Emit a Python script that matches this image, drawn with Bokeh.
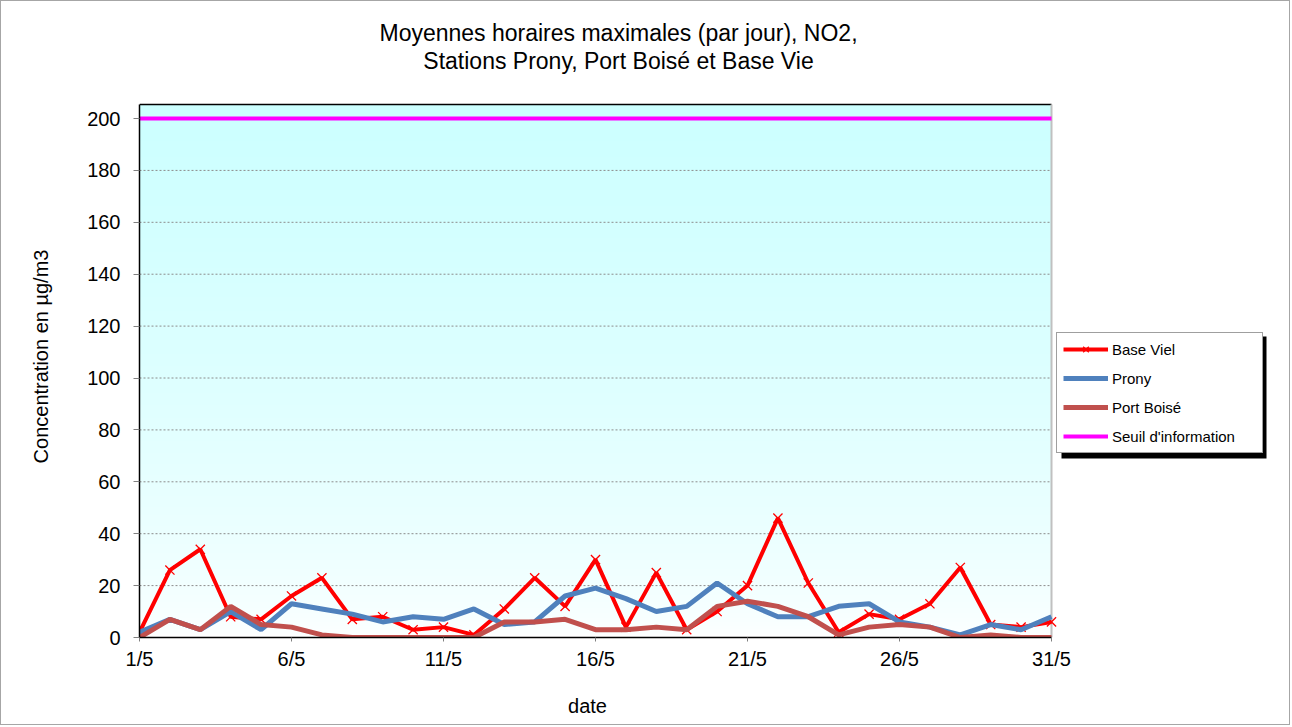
import math
import numpy as np
from bokeh.plotting import figure
from bokeh.models import (ColumnDataSource, FixedTicker, Legend, LegendItem, Range1d, Label,
                          BoxAnnotation)
from bokeh.embed import file_html
from bokeh.resources import INLINE

# ---------------- data ----------------
days = list(range(1, 32))
tick_days = [1, 6, 11, 16, 21, 26, 31]
tick_labels = ["1/5", "6/5", "11/5", "16/5", "21/5", "26/5", "31/5"]
y_ticks = [0, 20, 40, 60, 80, 100, 120, 140, 160, 180, 200]

base_viel = [2, 26, 34, 8, 7, 16, 23, 7, 8, 3, 4, 1, 11, 23, 12, 30,
             4, 25, 3, 10, 20, 46, 21, 2, 9, 7, 13, 27, 5, 4, 6]
prony = [2, 7, 3, 10, 3, 13, 11, 9, 6, 8, 7, 11, 5, 6, 16, 19,
         15, 10, 12, 21, 13, 8, 8, 12, 13, 6, 4, 1, 5, 3, 8]
port_boise = [0, 7, 3, 12, 5, 4, 1, 0, 0, 0, 0, 0, 6, 6, 7, 3,
              3, 4, 3, 12, 14, 12, 8, 1, 4, 5, 4, 0, 1, 0, 0]
seuil = [200] * 31

series_names = ["Base Viel", "Prony", "Port Boisé", "Seuil d'information"]
series_colors = ["#FF0000", "#4F81BD", "#C0504D", "#FF00FF"]
title_lines = ["Moyennes horaires maximales (par jour), NO2,",
               "Stations Prony, Port Boisé et Base Vie"]
x_label = "date"
y_label = "Concentration en µg/m3"

FONT = "Liberation Sans"

# ---------------- geometry (picture pixels) ----------------
W, H = 1288, 723
LEFT = 138                          # frame left in figure px (picture x = 139)
PLOT_W, PLOT_H = 912, 533           # visible plot area (days 1..31, 0..Y_MAX)
FRAME_H = 636                       # frame from figure top down to y = 0
BOTTOM = H - FRAME_H
FRAME_W = W - LEFT - 4
Y_MAX = 205.4
X0, X1 = days[0], days[-1]
px_per_day = PLOT_W / (X1 - X0)
px_per_unit = PLOT_H / Y_MAX
X_END = X0 + FRAME_W / px_per_day
Y_END = FRAME_H / px_per_unit


def dx(px):  # picture x -> data x
    return X0 + (px - 139) / px_per_day


def dy(py):  # picture y -> data y
    return (637 - py) / px_per_unit


src = ColumnDataSource(dict(day=days, bv=base_viel, pr=prony, pb=port_boise, se=seuil))

p = figure(width=W, height=H, output_backend="svg", toolbar_location=None,
           x_range=Range1d(X0, X_END), y_range=Range1d(0, Y_END),
           frame_width=FRAME_W, frame_height=FRAME_H,
           min_border_left=LEFT, min_border_right=4, min_border_top=0, min_border_bottom=BOTTOM)
p.styles = {"border": "1px solid #a6a6a6"}
p.background_fill_color = "white"
p.border_fill_color = "white"
p.outline_line_color = None
p.xgrid.visible = False
p.ygrid.visible = False

# gradient background of plot area
n = 300
t = np.linspace(0, 1, n)  # 0 = bottom, 1 = top
frac = t ** 0.6
img = np.zeros((n, 1), dtype=np.uint32)
view = img.view(dtype=np.uint8).reshape((n, 1, 4))
view[:, 0, 0] = (255 - (255 - 204) * frac).astype(np.uint8)
view[:, 0, 1] = 255
view[:, 0, 2] = 255
view[:, 0, 3] = 255
p.image_rgba(image=[img], x=X0, y=0, dw=X1 - X0, dh=Y_MAX, level="image")

# horizontal grid lines (dashed)
p.segment(x0=[X0] * len(y_ticks), x1=[X1] * len(y_ticks), y0=y_ticks, y1=y_ticks,
          line_color="#8c8c8c", line_dash="2 2", line_width=1)

# plot-area border: black top, gray right
p.segment(x0=[X0], x1=[X1], y0=[Y_MAX], y1=[Y_MAX], line_color="black", line_width=1.5)
p.segment(x0=[X1], x1=[X1], y0=[0], y1=[Y_MAX], line_color="#c0c0c0", line_width=2)

# series (Excel order)
r_bv = p.line("day", "bv", source=src, color=series_colors[0], line_width=4)
r_bvm = p.scatter("day", "bv", source=src, marker="x", size=13,
                  line_color=series_colors[0], line_width=1.3)
r_pr = p.line("day", "pr", source=src, color=series_colors[1], line_width=5)
r_pb = p.line("day", "pb", source=src, color=series_colors[2], line_width=5)
r_se = p.line("day", "se", source=src, color=series_colors[3], line_width=4)

# axes
p.xaxis.bounds = (X0, X1)
p.xaxis.ticker = FixedTicker(ticks=tick_days)
p.xaxis.major_label_overrides = {d: l for d, l in zip(tick_days, tick_labels)}
p.xaxis.minor_tick_line_color = None
p.xaxis.major_tick_out = 4
p.xaxis.major_tick_in = 0
p.xaxis.major_tick_line_color = "#808080"
p.xaxis.major_label_standoff = 6

p.yaxis.bounds = (0, Y_MAX)
p.yaxis.ticker = FixedTicker(ticks=y_ticks)
p.yaxis.minor_tick_line_color = None
p.yaxis.major_tick_out = 6
p.yaxis.major_tick_in = 0
p.yaxis.major_tick_line_color = "#808080"
p.yaxis.major_label_standoff = 13

for ax in (p.xaxis, p.yaxis):
    ax.axis_line_color = "black"
    ax.axis_line_width = 1.5
    ax.major_label_text_font = FONT
    ax.major_label_text_font_size = "20px"
    ax.major_label_text_color = "black"

# axis titles placed in the side panels
p.add_layout(Label(x=dx(587), y=dy(705), text=x_label, text_align="center",
                   text_baseline="middle", text_font=FONT, text_font_size="20px",
                   text_color="black"), "below")
p.add_layout(Label(x=dx(40), y=dy(356), text=y_label, angle=math.pi / 2,
                   text_align="center", text_baseline="middle", text_font=FONT,
                   text_font_size="20px", text_color="black"), "left")

# title (two centred lines)
for line, py in zip(title_lines, [32, 60]):
    p.add_layout(Label(x=dx(618), y=dy(py), text=line, text_align="center",
                       text_baseline="middle", text_font=FONT, text_font_size="23px",
                       text_color="black"))

# legend with drop shadow
p.add_layout(BoxAnnotation(left=dx(1061), right=dx(1266), top=dy(336), bottom=dy(458),
                           fill_color="black", fill_alpha=1.0, line_color=None))

legend = Legend(items=[
    LegendItem(label=series_names[0], renderers=[r_bv, r_bvm]),
    LegendItem(label=series_names[1], renderers=[r_pr]),
    LegendItem(label=series_names[2], renderers=[r_pb]),
    LegendItem(label=series_names[3], renderers=[r_se]),
], location=(917, 184))
legend.padding = 6
legend.margin = 0
legend.spacing = 9
legend.label_height = 20
legend.glyph_height = 20
legend.glyph_width = 45
legend.label_width = 144
legend.label_standoff = 4
legend.label_text_font = FONT
legend.label_text_font_size = "15px"
legend.label_text_baseline = "middle"
legend.background_fill_color = "white"
legend.background_fill_alpha = 1.0
legend.border_line_color = "#404040"
legend.border_line_width = 1
legend.label_text_color = "black"
p.add_layout(legend, "center")

open("out.html", "w").write(file_html(p, INLINE))
